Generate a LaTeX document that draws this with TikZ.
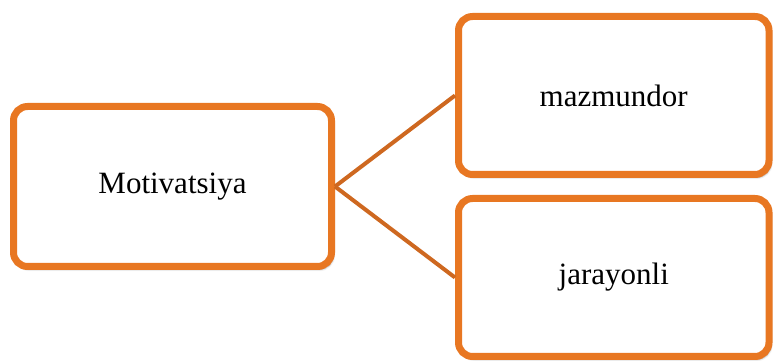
\documentclass[tikz,border=0pt]{standalone}
\usepackage{fontspec}
\setmainfont{Liberation Serif}
\usetikzlibrary{shadows.blur}
\definecolor{boxorange}{RGB}{232,119,34}
\definecolor{lineorange}{RGB}{206,104,32}
\tikzset{
  box/.style={draw=boxorange, line width=7pt, rounded corners=14pt, fill=white,
    inner sep=0pt, font=\fontsize{31}{36}\selectfont,
    blur shadow={shadow xshift=2pt, shadow yshift=-3pt, shadow blur steps=6, shadow opacity=35}},
  conn/.style={draw=lineorange, line width=4pt}
}
\begin{document}
\begin{tikzpicture}[x=1pt,y=1pt]
\useasboundingbox (0,0) rectangle (773,361);
\node[box, minimum width=318pt, minimum height=160pt] (L) at (172.5,174.5) {Motivatsiya};
\node[box, minimum width=310.5pt, minimum height=158pt] (T) at (613.75,265.5) {mazmundor};
\node[box, minimum width=310.5pt, minimum height=158pt] (B) at (613.75,83.5) {jarayonli};
\draw[conn] (L.east) -- (T.west);
\draw[conn] (L.east) -- (B.west);
\end{tikzpicture}
\end{document}
